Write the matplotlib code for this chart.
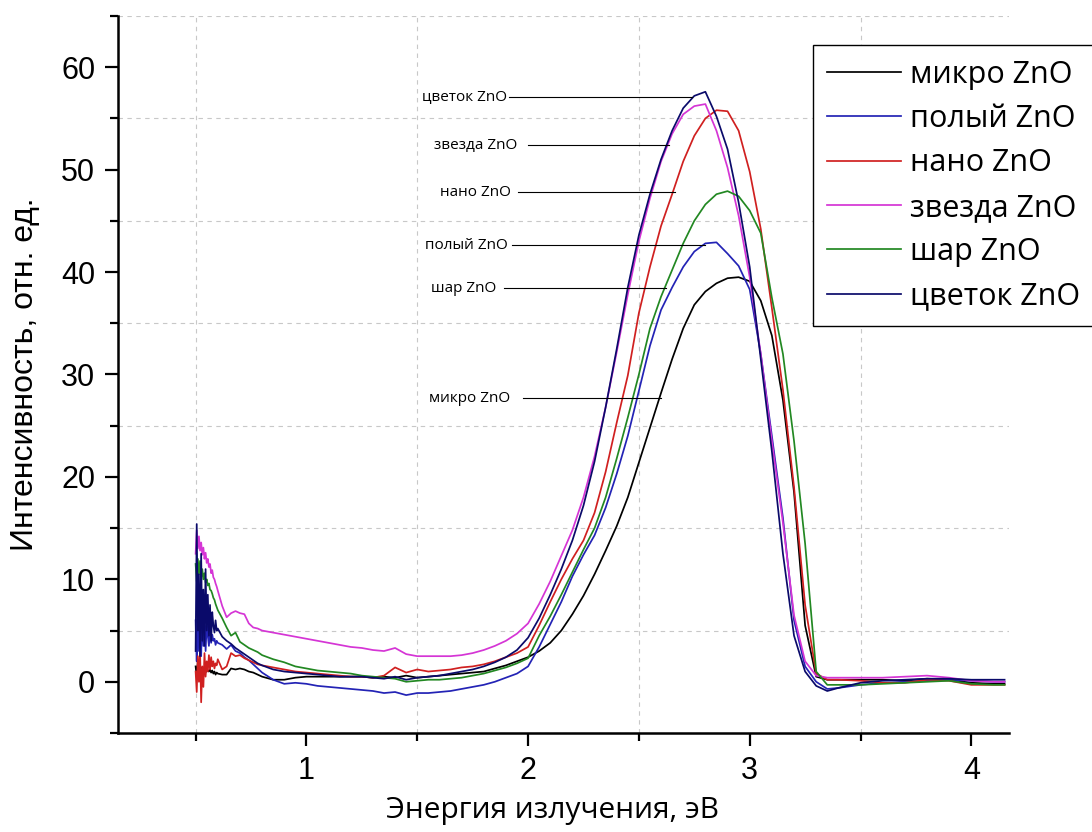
import matplotlib
matplotlib.use('Agg')
import matplotlib.pyplot as plt
from matplotlib.ticker import MultipleLocator

# photon energy, eV (dense where the spectra are noisy)
energy = [0.500, 0.505, 0.510, 0.515, 0.520, 0.525, 0.530, 0.535, 0.540, 0.545, 0.550,
          0.555, 0.560, 0.565, 0.570, 0.575, 0.580, 0.585, 0.590, 0.595, 0.600,
          0.62, 0.64, 0.66, 0.68, 0.70, 0.72, 0.74, 0.76, 0.78, 0.80,
          0.85, 0.90, 0.95, 1.00, 1.05, 1.10, 1.15, 1.20, 1.25, 1.30, 1.35, 1.40,
          1.45, 1.50, 1.55, 1.60, 1.65, 1.70, 1.75, 1.80, 1.85, 1.90, 1.95, 2.00,
          2.05, 2.10, 2.15, 2.20, 2.25, 2.30, 2.35, 2.40, 2.45, 2.50, 2.55, 2.60,
          2.65, 2.70, 2.75, 2.80, 2.85, 2.90, 2.95, 3.00, 3.05, 3.10, 3.15, 3.20,
          3.25, 3.30, 3.35, 3.40,
          3.50, 3.60, 3.70, 3.80, 3.90, 4.00, 4.10, 4.15]

micro = [1.5, 0.5, 2.0, 0.8, 1.6, 0.6, 1.4, 1.0, 1.2, 0.9, 1.3, 1.1, 1.0, 1.2, 0.9, 1.1, 0.8, 1.0, 0.7, 0.9, 0.8,
         0.7, 0.7, 1.3, 1.2, 1.3, 1.2, 1.0, 0.9, 0.7, 0.5,
         0.2, 0.2, 0.4, 0.5, 0.5, 0.5, 0.5, 0.5, 0.5, 0.4, 0.5, 0.4, 0.6, 0.4, 0.5, 0.6, 0.7, 0.8, 0.9, 1.0, 1.3, 1.6, 2.0, 2.4,
         3.0, 3.8, 5.0, 6.6, 8.4, 10.5, 12.8, 15.2, 18.0, 21.4, 24.8, 28.2, 31.5, 34.5, 36.8, 38.1, 38.9, 39.4, 39.5, 39.1,
         37.2, 33.8, 27.5, 18.5, 5.5, 0.5, 0.2, 0.2,
         0.2, 0.2, 0.1, 0.3, 0.2, -0.1, -0.2, -0.2]

hollow = [6.0, 2.0, 9.5, 3.0, 8.0, 2.5, 7.0, 3.5, 6.5, 3.0, 5.5, 4.5, 3.5, 5.0, 3.8, 4.6, 4.0, 4.2, 3.6, 4.0, 3.8,
          3.6, 3.2, 3.6, 3.0, 2.8, 2.4, 2.1, 1.7, 1.3, 0.9,
          0.2, -0.2, -0.1, -0.2, -0.4, -0.5, -0.6, -0.7, -0.8, -0.9, -1.1, -1.0, -1.3, -1.1, -1.1, -1.0, -0.9, -0.7, -0.5, -0.3, 0.0, 0.4, 0.8, 1.5,
          3.4, 5.6, 7.8, 10.3, 12.4, 14.3, 17.0, 20.3, 24.0, 28.4, 32.8, 36.3, 38.5, 40.5, 42.0, 42.8, 42.9, 41.8, 40.6, 38.3,
          32.0, 24.0, 16.0, 6.0, 1.5, 0.0, -0.7, -0.6,
          -0.3, -0.1, 0.0, 0.1, 0.2, 0.1, 0.0, 0.0]

nano = [1.0, -1.0, 2.5, 0.0, 3.0, -2.0, 1.5, -0.5, 2.8, 0.5, 2.0, 1.0, 2.6, 1.2, 2.4, 1.5, 2.0, 1.3, 1.8, 1.6, 2.2,
        1.2, 1.5, 2.8, 2.5, 2.6, 2.3, 2.1, 1.9, 1.7, 1.6,
        1.4, 1.2, 1.0, 0.9, 0.8, 0.7, 0.6, 0.5, 0.5, 0.4, 0.6, 1.4, 0.9, 1.2, 1.0, 1.1, 1.2, 1.4, 1.5, 1.7, 2.0, 2.4, 2.8, 3.4,
        5.5, 7.8, 10.0, 12.0, 13.8, 16.5, 20.5, 25.3, 29.9, 36.0, 40.5, 44.5, 47.6, 50.8, 53.3, 55.0, 55.8, 55.7, 53.8, 49.8,
        44.2, 36.5, 28.5, 19.0, 7.5, 0.8, 0.2, 0.2,
        0.1, -0.1, -0.1, 0.2, 0.1, -0.3, -0.3, -0.3]

star = [12.5, 14.8, 13.0, 14.2, 12.8, 13.6, 12.4, 13.1, 12.0, 12.6, 11.6, 12.0, 11.2, 11.5, 10.6, 10.9, 10.2, 10.0, 9.6, 9.3, 8.9,
        7.4, 6.3, 6.7, 6.9, 6.7, 6.6, 5.7, 5.3, 5.2, 5.0,
        4.8, 4.6, 4.4, 4.2, 4.0, 3.8, 3.6, 3.4, 3.3, 3.1, 3.0, 3.3, 2.7, 2.5, 2.5, 2.5, 2.5, 2.6, 2.8, 3.1, 3.5, 4.0, 4.7, 5.7,
        7.6, 9.8, 12.3, 14.8, 18.0, 22.0, 26.8, 32.2, 37.8, 43.0, 47.2, 50.8, 53.5, 55.4, 56.2, 56.4, 53.8, 50.2, 45.5, 39.5,
        32.0, 23.5, 15.5, 6.5, 2.0, 0.6, 0.4, 0.4,
        0.4, 0.4, 0.5, 0.6, 0.4, 0.1, 0.0, 0.0]

ball = [11.5, 9.8, 12.0, 10.5, 11.8, 10.2, 11.0, 10.0, 10.6, 9.7, 10.0, 9.4, 9.6, 9.0, 8.9, 8.6, 8.2, 8.0, 7.6, 7.3, 7.0,
        6.2, 5.3, 4.5, 4.8, 3.9, 3.6, 3.3, 3.1, 2.9, 2.6,
        2.2, 1.9, 1.5, 1.3, 1.1, 1.0, 0.9, 0.8, 0.6, 0.5, 0.4, 0.3, 0.0, 0.1, 0.2, 0.2, 0.3, 0.4, 0.6, 0.8, 1.1, 1.4, 1.8, 2.3,
        4.5, 6.4, 8.5, 10.7, 12.9, 15.0, 18.0, 21.8, 25.8, 30.0, 34.5, 37.6, 40.2, 42.8, 45.0, 46.6, 47.6, 47.9, 47.4, 46.0,
        43.8, 37.5, 32.0, 23.5, 13.5, 1.0, -0.3, -0.3,
        -0.3, -0.2, -0.1, 0.0, 0.1, -0.2, -0.3, -0.3]

flower = [3.0, 15.4, 5.0, 10.5, 2.5, 12.5, 4.0, 9.0, 3.5, 11.0, 5.0, 8.5, 4.5, 7.5, 4.0, 6.8, 5.5, 4.8, 6.0, 5.0, 5.2,
          4.4, 4.0, 3.7, 3.3, 3.0, 2.7, 2.4, 2.1, 1.8, 1.6,
          1.2, 1.0, 0.9, 0.8, 0.7, 0.6, 0.5, 0.5, 0.5, 0.4, 0.3, 0.5, 0.2, 0.4, 0.5, 0.6, 0.8, 1.0, 1.2, 1.5, 1.9, 2.4, 3.1, 4.3,
          6.2, 8.5, 11.0, 13.8, 17.2, 21.5, 26.8, 32.5, 38.5, 43.6, 47.6, 51.0, 53.8, 56.0, 57.2, 57.6, 55.2, 52.0, 46.8, 40.5,
          31.5, 22.5, 12.5, 4.5, 1.0, -0.4, -0.9, -0.6,
          -0.1, 0.1, 0.2, 0.3, 0.3, 0.2, 0.2, 0.2]

series = [micro, hollow, nano, star, ball, flower]
names = ['микро ZnO', 'полый ZnO', 'нано ZnO', 'звезда ZnO', 'шар ZnO', 'цветок ZnO']
colors = ['#000000', '#2323b5', '#d02020', '#d535d5', '#228822', '#0a0a6a']

# callout labels: (text, y, text right end, leader start, leader end)
callouts = [('цветок ZnO', 57.1, 1.905, 1.914, 2.739),
            ('звезда ZnO', 52.4, 1.953, 2.000, 2.635),
            ('нано ZnO', 47.8, 1.923, 1.953, 2.662),
            ('полый ZnO', 42.6, 1.909, 1.928, 2.797),
            ('шар ZnO', 38.4, 1.858, 1.890, 2.622),
            ('микро ZnO', 27.7, 1.921, 1.977, 2.599)]

fig = plt.figure(figsize=(10.92, 8.32), dpi=100)
ax = fig.add_axes([0.1081, 0.119, 0.8159, 0.8618])

for y, name, c in zip(series, names, colors):
    ax.plot(energy, y, color=c, lw=1.25, label=name)

for text, y, xt, x0, x1 in callouts:
    ax.text(xt, y, text, ha='right', va='center', fontsize=11, family='Open Sans')
    ax.plot([x0, x1], [y, y], color='black', lw=0.8)

ax.set_xlim(0.15, 4.17)
ax.set_ylim(-5, 65)
ax.xaxis.set_major_locator(MultipleLocator(1))
ax.xaxis.set_minor_locator(MultipleLocator(0.5))
ax.yaxis.set_major_locator(MultipleLocator(10))
ax.yaxis.set_minor_locator(MultipleLocator(5))

ax.grid(which='minor', linestyle=(0, (4, 4)), color='#c8c8c8', linewidth=0.8)
ax.grid(which='major', visible=False)
ax.set_axisbelow(True)

for s in ['top', 'right']:
    ax.spines[s].set_visible(False)
for s in ['left', 'bottom']:
    ax.spines[s].set_linewidth(1.8)

ax.tick_params(which='major', direction='out', length=9.5, width=1.6, pad=7)
ax.tick_params(which='minor', direction='out', length=5.5, width=1.6)
for lab in ax.get_xticklabels() + ax.get_yticklabels():
    lab.set_family('Liberation Sans')
    lab.set_fontsize(22)

ax.set_xlabel('Энергия излучения, эВ', fontsize=21.5, family='Open Sans', labelpad=7)
ax.xaxis.label.set_x(0.488)
ax.set_ylabel('Интенсивность, отн. ед.', fontsize=23, family='Liberation Sans', labelpad=15)

leg = ax.legend(loc='upper left', bbox_to_anchor=(812.7 / 1092, 1 - 45 / 832),
                bbox_transform=fig.transFigure, borderaxespad=0, frameon=True,
                fancybox=False, edgecolor='black', framealpha=1,
                prop={'family': 'Open Sans', 'size': 22},
                handlelength=2.4, handletextpad=0.3, labelspacing=0.47, borderpad=0.48)
leg.get_frame().set_linewidth(1.0)

fig.savefig('out.png', dpi=100)
